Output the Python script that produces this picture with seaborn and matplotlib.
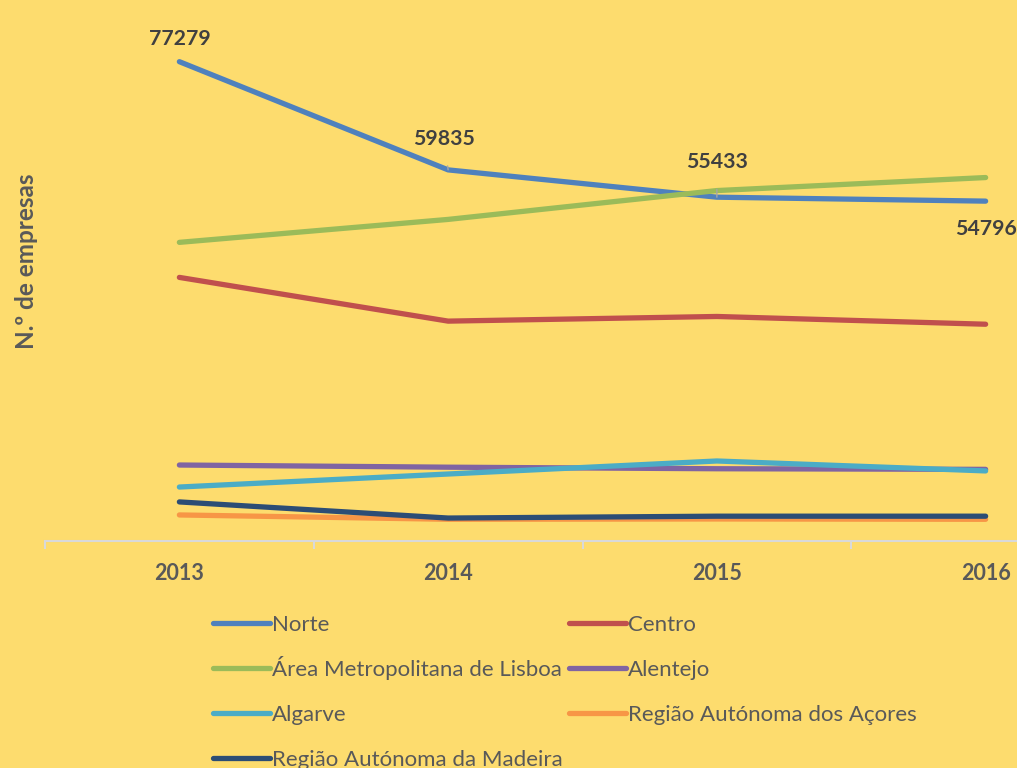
import matplotlib
matplotlib.use("Agg")
import matplotlib.pyplot as plt
from matplotlib.legend_handler import HandlerLine2D
import numpy as np
import seaborn as sns
import pandas as pd

years = ["2013", "2014", "2015", "2016"]
regions = ["Norte", "Centro", "Área Metropolitana de Lisboa", "Alentejo",
           "Algarve", "Região Autónoma dos Açores", "Região Autónoma da Madeira"]
norte = [77279, 59835, 55433, 54796]
centro = [42500, 35450, 36200, 34950]
lisboa = [48150, 51850, 56500, 58600]
alentejo = [12250, 11900, 11650, 11550]
algarve = [8700, 10800, 12900, 11300]
acores = [4200, 3500, 3550, 3500]
madeira = [6300, 3700, 4000, 4000]
series = [norte, centro, lisboa, alentejo, algarve, acores, madeira]
colors = ["#4F81BD", "#C0504D", "#9BBB59", "#8064A2", "#4BACC6", "#F79646", "#2C4D75"]

rows = []
for r, vals in zip(regions, series):
    for i, (y, v) in enumerate(zip(years, vals)):
        rows.append({"pos": i, "year": y, "region": r, "value": v})
df = pd.DataFrame(rows)

bg = "#FDDC6E"
sns.set_theme(style="white")
plt.rcParams["font.family"] = ["Lato", "DejaVu Sans"]

fig = plt.figure(figsize=(10.17, 7.68), dpi=100, facecolor=bg)
ax = fig.add_axes([45/1017, (768-541)/768, (1120-45)/1017, 521/768])
ax.set_facecolor(bg)

sns.lineplot(data=df, x="pos", y="value", hue="region", hue_order=regions,
             palette=colors, linewidth=3.8, ax=ax, sort=False,
             solid_capstyle="round", legend=True)

ax.set_xlim(-0.5, 3.5)
ax.set_ylim(0, 84000)
ax.set_yticks([])
ax.set_xticks(range(len(years)))
ax.set_xticklabels(years, fontsize=15.5, fontweight="bold", color="#595959")
ax.set_xticks([-0.5, 0.5, 1.5, 2.5], minor=True)
ax.tick_params(axis="x", which="major", length=0, pad=16)
ax.tick_params(axis="x", which="minor", length=6, width=1.5, color="#D9D9D9", direction="out", bottom=True)
ax.set_xlabel("")
ax.set_ylabel("")
for s in ["top", "right", "left"]:
    ax.spines[s].set_visible(False)
ax.spines["bottom"].set_color("#D9D9D9")
ax.spines["bottom"].set_linewidth(1.5)

fig.text(27/1017, 1 - 261/768, "N.º de empresas", rotation=90, ha="center", va="center",
         fontsize=17.5, fontweight="bold", color="#595959")

# data labels for Norte
lab_col = "#404040"
fs_lab = 15.3
ax.annotate(str(norte[0]), xy=(0, norte[0]), xytext=(0, 23), textcoords="offset pixels",
            ha="center", va="center", fontsize=fs_lab, fontweight="bold", color=lab_col)
ax.annotate(str(norte[1]), xy=(1, norte[1]), xytext=(-4, 31), textcoords="offset pixels",
            ha="center", va="center", fontsize=fs_lab, fontweight="bold", color=lab_col,
            arrowprops=dict(arrowstyle="-", color="#A6A6A6", lw=1, shrinkA=10, shrinkB=0))
ax.annotate(str(norte[2]), xy=(2, norte[2]), xytext=(0, 35), textcoords="offset pixels",
            ha="center", va="center", fontsize=fs_lab, fontweight="bold", color=lab_col,
            arrowprops=dict(arrowstyle="-", color="#A6A6A6", lw=1, shrinkA=10, shrinkB=0))
ax.annotate(str(norte[3]), xy=(3, norte[3]), xytext=(0, -28), textcoords="offset pixels",
            ha="center", va="center", fontsize=fs_lab, fontweight="bold", color=lab_col)


class ShiftedLine(HandlerLine2D):
    def create_artists(self, legend, orig_handle, xdescent, ydescent, width, height,
                       fontsize, trans):
        arts = super().create_artists(legend, orig_handle, xdescent, ydescent, width,
                                      height, fontsize, trans)
        for a in arts:
            a.set_ydata(np.asarray(a.get_ydata(), dtype=float) - 3.0)
        return arts


handles, labels = ax.get_legend_handles_labels()
ax.get_legend().remove()
for h in handles:
    h.set_linewidth(3.8)
    h.set_solid_capstyle("round")
order = [0, 2, 4, 6, 1, 3, 5]
handles = [handles[i] for i in order]
labels = [labels[i] for i in order]
leg = fig.legend(handles, labels, ncol=2, loc="upper left",
                 bbox_to_anchor=(213/1017, 1 - 607/768), frameon=False,
                 fontsize=16, handlelength=2.55, handletextpad=0.1, handleheight=2.0,
                 columnspacing=0.3, labelspacing=0.48, borderaxespad=0, borderpad=0,
                 handler_map={matplotlib.lines.Line2D: ShiftedLine()})
for t in leg.get_texts():
    t.set_color("#595959")

fig.savefig("out.png", dpi=100, facecolor=bg)
